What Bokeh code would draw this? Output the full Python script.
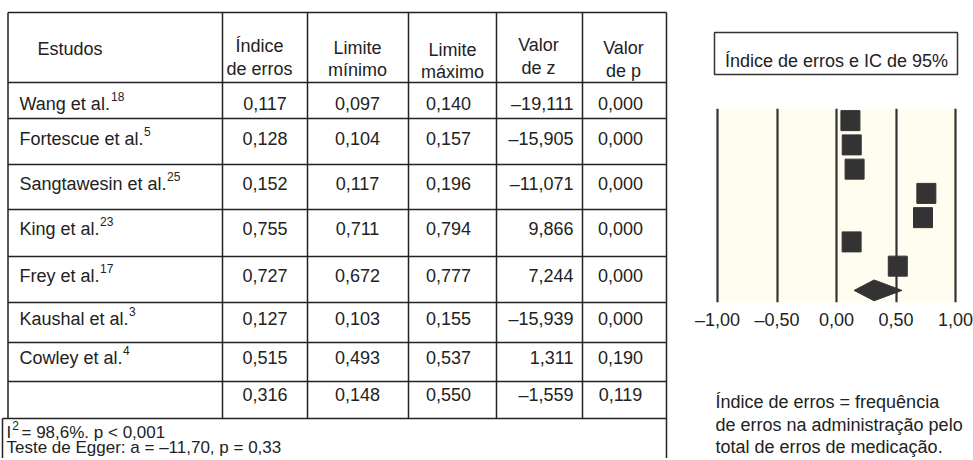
from bokeh.plotting import figure
from bokeh.layouts import row, column
from bokeh.models import Range1d, BoxAnnotation, FixedTicker, CustomJSTickFormatter
from bokeh.core.properties import value
from bokeh.embed import file_html
from bokeh.resources import INLINE

# ---------------- data ----------------
study_names = ["Wang et al.", "Fortescue et al.", "Sangtawesin et al.", "King et al.",
               "Frey et al.", "Kaushal et al.", "Cowley et al."]
study_refs = ["18", "5", "25", "23", "17", "3", "4"]
error_index = [0.117, 0.128, 0.152, 0.755, 0.727, 0.127, 0.515]
lower_limit = [0.097, 0.104, 0.117, 0.711, 0.672, 0.103, 0.493]
upper_limit = [0.140, 0.157, 0.196, 0.794, 0.777, 0.155, 0.537]
z_value = [-19.111, -15.905, -11.071, 9.866, 7.244, -15.939, 1.311]
p_value = [0.000, 0.000, 0.000, 0.000, 0.000, 0.000, 0.190]

pooled_index = 0.316
pooled_lower = 0.148
pooled_upper = 0.550
pooled_z = -1.559
pooled_p = 0.119

i_squared = 98.6
egger_a = -11.70
egger_p = 0.33

axis_ticks = [-1.0, -0.5, 0.0, 0.5, 1.0]
header_labels = [["Estudos"], ["Índice", "de erros"], ["Limite", "mínimo"],
                 ["Limite", "máximo"], ["Valor", "de z"], ["Valor", "de p"]]
forest_title = "Índice de erros e IC de 95%"
note_lines = ["Índice de erros = frequência",
              "de erros na administração pelo",
              "total de erros de medicação."]

# ---------------- helpers / style ----------------
FONT = value("Liberation Sans")
INK = "#222222"
MARK = "#333333"
CREAM = "#fffdf0"
FS = 18
FOOT_FS = 17
SUP_FS = 12
# Arial / Liberation Sans advance widths (per em) for placing superscripts
ADV = {'W': .944, 'a': .556, 'n': .556, 'g': .556, ' ': .278, 'e': .556, 't': .278,
       'l': .222, '.': .278, 'F': .611, 'o': .556, 'r': .333, 's': .5, 'c': .5,
       'u': .556, 'S': .667, 'w': .722, 'i': .222, 'K': .667, 'k': .5, 'y': .5,
       'h': .556, 'C': .722, 'I': .278}

PAGE_W, PAGE_H = 973, 458
TABLE_W = 690
RIGHT_W = PAGE_W - TABLE_W


def text_width(s, size):
    return sum(ADV.get(ch, .556) for ch in s) * size


def fmt(v, d=3):
    s = f"{abs(v):.{d}f}".replace(".", ",")
    return ("–" + s) if v < 0 else s


def blank(width, height, xr, yr):
    return figure(width=width, height=height, x_range=xr, y_range=yr,
                  x_axis_type=None, y_axis_type=None, toolbar_location=None,
                  output_backend="svg", min_border=0, outline_line_color=None)


def txt(f, xs, ys, texts, align="left", size=FS):
    f.text(x=xs, y=ys, text=texts, text_font=FONT, text_font_size=f"{size}px",
           text_color=INK, text_align=align, text_baseline="alphabetic")


# ---------------- table (page-pixel coordinates) ----------------
tbl = blank(TABLE_W, PAGE_H, Range1d(0, TABLE_W), Range1d(PAGE_H, 0))

left_edge, right_edge = 7.5, 666
box_left = 2
col_edges = [left_edge, 222, 307, 408, 496, 582, right_edge]
row_edges = [12, 82, 118, 164, 209, 256, 302, 342, 381, 418]
box_bottom = PAGE_H

# horizontal lines
hl_x0 = [left_edge] * (len(row_edges) - 1) + [box_left]
tbl.segment(x0=hl_x0, y0=row_edges, x1=[right_edge] * len(row_edges), y1=row_edges,
            line_color=INK, line_width=1.5)
# inner vertical lines
inner = col_edges[1:-1]
tbl.segment(x0=inner, y0=[row_edges[0]] * len(inner), x1=inner,
            y1=[row_edges[-1]] * len(inner), line_color=INK, line_width=1.5)
# outer vertical lines
tbl.segment(x0=[left_edge, right_edge, box_left], y0=[row_edges[0], row_edges[0], row_edges[-1]],
            x1=[left_edge, right_edge, box_left], y1=[row_edges[-1], box_bottom, box_bottom],
            line_color=INK, line_width=1.5)

# header
header_x = [37, 259, 357, 452, 538, 623]
header_base = [[48], [45, 68], [47, 69], [49, 71], [44, 67], [47, 70]]
hx, hy, ht = [], [], []
for i, lines in enumerate(header_labels[1:], start=1):
    for line, b in zip(lines, header_base[i]):
        hx.append(header_x[i]); hy.append(b); ht.append(line)
txt(tbl, [header_x[0]], header_base[0], header_labels[0], "left")
txt(tbl, hx, hy, ht, "center")

# body rows
row_base = [103, 138, 183, 228, 275, 318, 357, 394]
name_x = 19
n_st = len(study_names)
txt(tbl, [name_x] * n_st, row_base[:n_st], study_names, "left")
sup_x = [name_x + text_width(nm, FS) + 0.5 for nm in study_names]
sup_y = [b - 7 for b in row_base[:n_st]]
txt(tbl, sup_x, sup_y, study_refs, "left", SUP_FS)

idx_col = [fmt(v) for v in error_index] + [fmt(pooled_index)]
lo_col = [fmt(v) for v in lower_limit] + [fmt(pooled_lower)]
hi_col = [fmt(v) for v in upper_limit] + [fmt(pooled_upper)]
z_col = [fmt(v) for v in z_value] + [fmt(pooled_z)]
p_col = [fmt(v) for v in p_value] + [fmt(pooled_p)]
n = len(idx_col)
txt(tbl, [264.5] * n, row_base, idx_col, "center")
txt(tbl, [357] * n, row_base, lo_col, "center")
txt(tbl, [448] * n, row_base, hi_col, "center")
txt(tbl, [573] * n, row_base, z_col, "right")
txt(tbl, [620] * n, row_base, p_col, "center")

# footer of the table
foot_x = 6
txt(tbl, [foot_x], [432], ["I"], "left", FOOT_FS)
txt(tbl, [foot_x + text_width("I", FOOT_FS) + 1], [425], ["2"], "left", SUP_FS)
txt(tbl, [21], [432], [f"= {fmt(i_squared, 1)}%. p < 0,001"], "left", FOOT_FS)
txt(tbl, [foot_x], [447], [f"Teste de Egger: a = {fmt(egger_a, 2)},  p = {fmt(egger_p, 2)}"],
    "left", FOOT_FS)

# ---------------- right column ----------------
title_h, forest_h = 95, 245
note_h = PAGE_H - title_h - forest_h

title_fig = blank(RIGHT_W, title_h, Range1d(TABLE_W, PAGE_W), Range1d(title_h, 0))
title_fig.quad(left=[714], right=[957], top=[32], bottom=[74],
               fill_color="white", line_color=MARK, line_width=1.5)
txt(title_fig, [836], [60], [forest_title], "center")

px_per_unit = 119.0
x_start = axis_ticks[0] - (717 - TABLE_W) / px_per_unit
x_end = x_start + RIGHT_W / px_per_unit
rows_y = list(range(len(error_index)))
pooled_row = len(error_index)

fp = figure(width=RIGHT_W, height=forest_h, x_range=Range1d(x_start, x_end),
            y_range=Range1d(pooled_row + 0.5, -0.5), y_axis_type=None,
            toolbar_location=None, output_backend="svg",
            min_border_left=0, min_border_right=0, min_border_top=13,
            min_border_bottom=38, outline_line_color=None)
fp.grid.visible = False
fp.add_layout(BoxAnnotation(left=axis_ticks[0], right=axis_ticks[-1],
                            fill_color=CREAM, fill_alpha=1, line_color=None,
                            level="underlay"))
fp.vspan(x=axis_ticks, line_color=MARK, line_width=2.2)
fp.segment(x0=lower_limit, y0=rows_y, x1=upper_limit, y1=rows_y,
           line_color=MARK, line_width=1.5)
fp.rect(x=error_index, y=rows_y, width=19, height=20, width_units="screen",
        height_units="screen", fill_color=MARK, line_color=MARK)
half = 0.43
fp.patch(x=[pooled_lower, pooled_index, pooled_upper, pooled_index],
         y=[pooled_row, pooled_row - half, pooled_row, pooled_row + half],
         fill_color=MARK, line_color=MARK)

ax = fp.xaxis[0]
ax.ticker = FixedTicker(ticks=axis_ticks)
ax.formatter = CustomJSTickFormatter(code="""
    const s = Math.abs(tick).toFixed(2).replace('.', ',');
    return (tick < 0 ? '\u2013' : '') + s;
""")
ax.axis_line_color = None
ax.major_tick_line_color = None
ax.minor_tick_line_color = None
ax.major_tick_out = 0
ax.major_tick_in = 0
ax.major_label_standoff = 7
ax.major_label_text_font = "Liberation Sans"
ax.major_label_text_font_size = f"{FS}px"
ax.major_label_text_color = INK

note_fig = blank(RIGHT_W, note_h, Range1d(TABLE_W, PAGE_W),
                 Range1d(PAGE_H, title_h + forest_h))
txt(note_fig, [715] * 3, [401, 424, 446], note_lines, "left")

layout = row(tbl, column(title_fig, fp, note_fig))

with open("out.html", "w") as fh:
    fh.write(file_html(layout, INLINE))
